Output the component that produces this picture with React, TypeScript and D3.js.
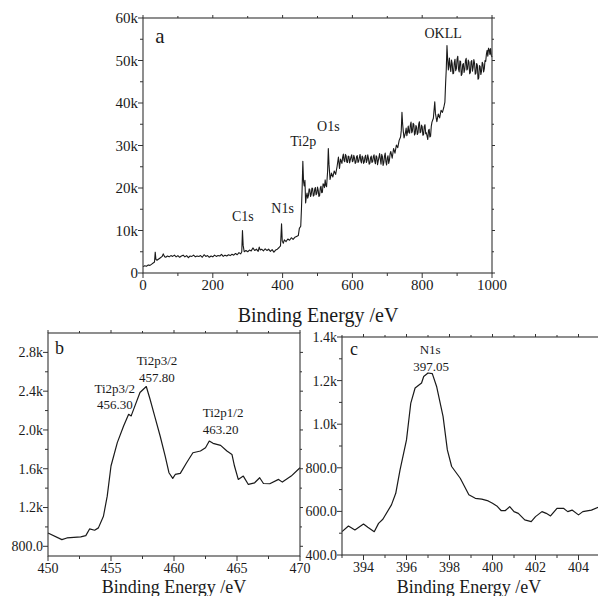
import React from "react";
import * as d3 from "d3";

// ---------- DATA ----------
// Panel a: XPS survey spectrum, [binding energy (eV), counts (thousands)]
const surveyPoints: [number, number][] = [
  [0, 1.5], [5, 1.7], [10, 1.6], [15, 1.9], [20, 1.8], [25, 2.1], [30, 2.4], [33, 2.6], [35, 4.9], [37, 3.2],
  [40, 3.0], [45, 3.3], [50, 3.6], [55, 3.9], [58, 4.5], [62, 3.8], [65, 3.7], [70, 4.0], [75, 3.8], [80, 4.1],
  [85, 3.9], [90, 4.2], [95, 3.8], [100, 4.1], [105, 3.7], [110, 4.0], [115, 4.2], [120, 3.8], [125, 4.1], [130, 3.6],
  [135, 4.0], [140, 3.9], [145, 4.2], [150, 3.8], [155, 4.0], [160, 3.9], [165, 4.1], [170, 3.7], [175, 4.3], [180, 3.9],
  [185, 4.1], [190, 3.7], [195, 4.0], [200, 3.8], [205, 4.2], [210, 3.9], [215, 4.1], [220, 4.0], [225, 4.4], [230, 3.9],
  [235, 4.2], [240, 4.0], [245, 4.3], [250, 4.1], [255, 4.4], [260, 4.2], [265, 4.6], [270, 4.3], [275, 4.8], [280, 4.5],
  [283, 5.0], [285, 10.0], [287, 6.5], [290, 5.0], [295, 5.3], [300, 5.0], [305, 5.4], [310, 5.2], [315, 5.9], [320, 5.3],
  [325, 5.6], [330, 5.1], [333, 6.1], [336, 5.4], [340, 5.6], [345, 5.2], [350, 5.7], [355, 5.3], [360, 5.6], [365, 5.1],
  [370, 5.5], [375, 4.9], [380, 5.4], [385, 5.6], [390, 6.0], [394, 6.4], [397, 11.6], [399, 7.5], [402, 7.0], [405, 7.8],
  [410, 7.4], [415, 8.0], [420, 7.7], [425, 8.3], [430, 7.9], [435, 8.4], [440, 8.6], [445, 8.8], [448, 10.5], [452, 11.0],
  [454, 15.0], [456, 20.0], [458, 26.3], [460, 21.5], [462, 20.5], [464, 21.8], [466, 16.5], [468, 18.0], [470, 18.8], [472, 17.6],
  [474, 18.2], [476, 19.8], [478, 19.6], [480, 18.0], [482, 18.5], [484, 20.0], [486, 19.9], [488, 18.1], [490, 18.3], [492, 19.7],
  [494, 20.1], [496, 18.4], [498, 18.7], [500, 20.2], [502, 19.5], [504, 18.0], [506, 18.2], [508, 20.0], [510, 20.4], [512, 18.9],
  [514, 19.0], [516, 21.0], [518, 20.8], [520, 20.1], [522, 21.9], [524, 20.6], [526, 20.3], [529, 24.0], [531, 29.3], [533, 25.5],
  [536, 22.0], [540, 23.5], [544, 22.6], [548, 24.0], [552, 23.2], [556, 25.0], [560, 27.3], [563, 24.6], [566, 26.8],
  [570, 25.8], [572, 27.2], [574, 28.0], [576, 26.5], [578, 26.2], [580, 27.9], [582, 27.6], [584, 26.1], [586, 26.0], [588, 27.5],
  [590, 27.4], [592, 25.9], [594, 26.6], [596, 27.3], [598, 27.8], [600, 26.2], [602, 26.4], [604, 27.7], [606, 27.1], [608, 25.8],
  [610, 26.0], [612, 27.4], [614, 27.6], [616, 26.0], [618, 26.3], [620, 27.2], [622, 27.9], [624, 26.4], [626, 25.9], [628, 27.5],
  [630, 27.2], [632, 25.8], [634, 26.1], [636, 27.3], [638, 27.7], [640, 26.0], [642, 26.5], [644, 27.8], [646, 27.0], [648, 25.6],
  [650, 25.8], [652, 27.1], [654, 27.5], [656, 26.0], [658, 26.2], [660, 27.4], [662, 27.8], [664, 26.3], [666, 25.7], [668, 27.6],
  [670, 27.3], [672, 25.5], [674, 26.4], [676, 27.2], [678, 28.1], [680, 26.8], [682, 25.6], [684, 27.9], [686, 27.4], [688, 25.3],
  [690, 26.0], [692, 27.5], [694, 28.2], [696, 26.2], [698, 25.4], [700, 27.0], [702, 27.6], [704, 25.8], [706, 26.5], [708, 28.0],
  [710, 28.6], [714, 27.0], [718, 29.3], [722, 28.2], [726, 30.1], [730, 29.5], [734, 31.2], [738, 32.0], [740, 33.5], [742, 37.8],
  [744, 35.0], [746, 33.2], [748, 31.8], [750, 32.4], [752, 33.0], [754, 34.1], [756, 32.3], [758, 33.2], [760, 34.6], [762, 33.1],
  [764, 32.9], [766, 34.8], [768, 35.5], [770, 33.0], [772, 33.4], [774, 35.2], [776, 35.0], [778, 32.5], [780, 32.8], [782, 34.7],
  [784, 34.3], [786, 32.6], [788, 33.0], [790, 35.0], [792, 35.6], [794, 33.0], [796, 33.2], [798, 34.8], [800, 34.4], [802, 32.4],
  [804, 32.6], [806, 34.5], [808, 34.9], [810, 32.8], [812, 33.0], [814, 32.2], [816, 31.4], [818, 33.5], [820, 33.8], [822, 32.0],
  [824, 32.2], [826, 34.5], [828, 35.5], [832, 36.4], [836, 40.3], [838, 37.5], [842, 35.6], [846, 37.4], [850, 36.5], [854, 38.3],
  [858, 37.8], [862, 39.0], [865, 40.2], [867, 44.5], [869, 48.0], [871, 53.5], [873, 50.2], [875, 47.8], [878, 50.6], [880, 48.5],
  [882, 47.4], [884, 50.1], [886, 49.2], [888, 46.9], [890, 47.0], [892, 49.5], [894, 50.3], [896, 47.6], [898, 48.1], [900, 50.4],
  [902, 51.0], [904, 48.0], [906, 47.3], [908, 49.9], [910, 49.8], [912, 46.5], [914, 46.8], [916, 49.0], [918, 49.3], [920, 47.2],
  [922, 47.9], [924, 50.0], [926, 50.5], [928, 47.8], [930, 48.0], [932, 50.1], [934, 49.6], [936, 46.9], [938, 47.2], [940, 49.7],
  [942, 50.0], [944, 47.5], [946, 48.4], [948, 50.2], [950, 49.4], [952, 46.8], [954, 47.0], [956, 49.3], [958, 48.9], [960, 45.6],
  [962, 45.9], [964, 48.8], [966, 48.6], [968, 46.7], [970, 47.5], [972, 49.6], [974, 49.2], [976, 47.3], [978, 48.1], [980, 50.0],
  [982, 49.8], [984, 51.5], [986, 52.4], [988, 51.0], [990, 52.9], [992, 52.6], [994, 51.4], [996, 52.8], [998, 51.2], [1000, 50.8],
];

// Panel b: Ti2p high resolution
const ti2pEnergy = [
  450.0, 451.1, 451.5, 452.6, 453.0, 453.3, 453.7, 454.0, 454.4, 454.7, 455.0, 455.5, 456.0, 456.4, 456.6, 456.9,
  457.3, 457.8, 458.1, 458.5, 458.9, 459.3, 459.6, 459.9, 460.1, 460.5, 461.0, 461.5, 462.1, 462.5, 462.8, 463.1,
  463.7, 464.2, 464.6, 464.8, 465.1, 465.5, 465.9, 466.4, 466.8, 467.1, 467.6, 468.3, 468.6, 469.3, 470.0,
];
const ti2pCounts = [
  938, 869, 886, 897, 910, 979, 966, 990, 1110, 1317, 1628, 1869, 2041, 2162, 2145, 2248,
  2386, 2448, 2317, 2128, 1938, 1731, 1559, 1500, 1541, 1552, 1662, 1765, 1783, 1817, 1886, 1862,
  1841, 1783, 1748, 1628, 1490, 1524, 1438, 1455, 1507, 1448, 1445, 1490, 1462, 1524, 1610,
];

// Panel c: N1s high resolution
const n1sEnergy = [
  393.0, 393.3, 393.6, 394.0, 394.2, 394.5, 394.7, 394.9, 395.3, 395.5, 395.7, 396.0, 396.2, 396.4, 396.7, 396.8,
  397.0, 397.2, 397.4, 397.7, 397.9, 398.1, 398.5, 398.7, 398.9, 399.2, 399.5, 399.8, 400.0, 400.2, 400.4, 400.6,
  400.8, 401.0, 401.2, 401.5, 401.8, 402.0, 402.3, 402.5, 402.7, 403.0, 403.3, 403.5, 403.7, 404.0, 404.2, 404.6, 405.0,
];
const n1sCounts = [
  507, 533, 515, 542, 527, 507, 545, 564, 630, 683, 790, 928, 1097, 1166, 1189, 1219,
  1235, 1232, 1173, 1036, 882, 806, 752, 714, 676, 660, 656, 648, 637, 625, 604, 604,
  622, 599, 591, 561, 553, 576, 599, 591, 579, 614, 614, 599, 606, 584, 599, 606, 622,
];

// Tick values and labels
const aXTicks = [0, 200, 400, 600, 800, 1000];
const aXMinor = [100, 300, 500, 700, 900];
const aYTicks = [0, 10000, 20000, 30000, 40000, 50000, 60000];
const aYLabels = ["0", "10k", "20k", "30k", "40k", "50k", "60k"];
const aYMinor = [5000, 15000, 25000, 35000, 45000, 55000];

const bXTicks = [450, 455, 460, 465, 470];
const bXMinor = [452.5, 457.5, 462.5, 467.5];
const bYTicks = [800, 1200, 1600, 2000, 2400, 2800];
const bYLabels = ["800.0", "1.2k", "1.6k", "2.0k", "2.4k", "2.8k"];
const bYMinor = [1000, 1400, 1800, 2200, 2600];

const cXTicks = [394, 396, 398, 400, 402, 404];
const cXMinor = [393, 395, 397, 399, 401, 403, 405];
const cYTicks = [400, 600, 800, 1000, 1200, 1400];
const cYLabels = ["400.0", "600.0", "800.0", "1.0k", "1.2k", "1.4k"];
const cYMinor = [500, 700, 900, 1100, 1300];

const FONT = "Liberation Serif, Times New Roman, Times, DejaVu Serif, serif";
const INK = "#1a1a1a";
const AXIS = "#333";

type Ann = { x: number; y: number; text: string; anchor?: string; size?: number };

type PanelProps = {
  left: number; right: number; top: number; bottom: number;
  xDomain: [number, number]; yDomain: [number, number];
  xs: number[]; ys: number[];
  xTicks: number[]; xMinor: number[]; xLabels?: string[];
  yTicks: number[]; yMinor: number[]; yLabels: string[];
  tickFont: number;
  anns: Ann[];
  lineWidth: number;
};

function Panel(p: PanelProps) {
  const x = d3.scaleLinear().domain(p.xDomain).range([p.left, p.right]);
  const y = d3.scaleLinear().domain(p.yDomain).range([p.bottom, p.top]);
  const pts: [number, number][] = p.xs.map((v, i) => [v, p.ys[i]]);
  const line = d3.line<[number, number]>().x((d) => x(d[0])).y((d) => y(d[1]));
  const major = 5, minor = 3, mirrorMajor = 3, mirrorMinor = 2;
  const ts = { fontFamily: FONT, fontSize: p.tickFont, fill: INK };
  return (
    <g>
      <path d={line(pts) || ""} fill="none" stroke={INK} strokeWidth={p.lineWidth} strokeLinejoin="round" />
      <rect x={p.left} y={p.top} width={p.right - p.left} height={p.bottom - p.top} fill="none" stroke={AXIS} strokeWidth={1.1} />
      {p.xTicks.map((t, i) => (
        <g key={"xt" + i}>
          <line x1={x(t)} x2={x(t)} y1={p.bottom} y2={p.bottom + major} stroke={AXIS} />
          <line x1={x(t)} x2={x(t)} y1={p.top} y2={p.top - mirrorMajor} stroke={AXIS} />
          <text x={x(t)} y={p.bottom + 17} textAnchor="middle" style={ts}>
            {p.xLabels ? p.xLabels[i] : String(t)}
          </text>
        </g>
      ))}
      {p.xMinor.map((t, i) => (
        <g key={"xm" + i}>
          <line x1={x(t)} x2={x(t)} y1={p.bottom} y2={p.bottom + minor} stroke={AXIS} />
          <line x1={x(t)} x2={x(t)} y1={p.top} y2={p.top - mirrorMinor} stroke={AXIS} />
        </g>
      ))}
      {p.yTicks.map((t, i) => (
        <g key={"yt" + i}>
          <line x1={p.left} x2={p.left - major} y1={y(t)} y2={y(t)} stroke={AXIS} />
          <line x1={p.right} x2={p.right + mirrorMajor} y1={y(t)} y2={y(t)} stroke={AXIS} />
          <text x={p.left - 5} y={y(t)} dy="0.35em" textAnchor="end" style={ts}>
            {p.yLabels[i]}
          </text>
        </g>
      ))}
      {p.yMinor.map((t, i) => (
        <g key={"ym" + i}>
          <line x1={p.left} x2={p.left - minor} y1={y(t)} y2={y(t)} stroke={AXIS} />
          <line x1={p.right} x2={p.right + mirrorMinor} y1={y(t)} y2={y(t)} stroke={AXIS} />
        </g>
      ))}
      {p.anns.map((a, i) => (
        <text key={"a" + i} x={x(a.x)} y={y(a.y)} textAnchor={a.anchor || "middle"}
          style={{ fontFamily: FONT, fontSize: a.size || 14, fill: INK }}>{a.text}</text>
      ))}
    </g>
  );
}

export default function App() {
  const titleStyle = (size: number) => ({ fontFamily: FONT, fontSize: size, fill: INK });
  return (
    <svg width={598} height={596} style={{ position: "absolute", left: 0, top: 0, background: "#fff" }}>
      <rect x={0} y={0} width={598} height={596} fill="#fff" />
      <Panel
        left={143} right={492} top={18} bottom={273}
        xDomain={[0, 1000]} yDomain={[0, 60000]}
        xs={surveyPoints.map((d) => d[0])} ys={surveyPoints.map((d) => d[1] * 1000)}
        xTicks={aXTicks} xMinor={aXMinor}
        yTicks={aYTicks} yMinor={aYMinor} yLabels={aYLabels}
        tickFont={15} lineWidth={1.1}
        anns={[
          { x: 35, y: 54100, text: "a", anchor: "start", size: 21 },
          { x: 286, y: 12300, text: "C1s" },
          { x: 400, y: 14100, text: "N1s" },
          { x: 459, y: 29900, text: "Ti2p" },
          { x: 531, y: 33400, text: "O1s" },
          { x: 860, y: 55400, text: "OKLL" },
        ]}
      />
      <text x={318} y={322} textAnchor="middle" style={titleStyle(20)}>Binding Energy /eV</text>

      <Panel
        left={48} right={300} top={333} bottom={556}
        xDomain={[450, 470]} yDomain={[700, 3000]}
        xs={ti2pEnergy} ys={ti2pCounts}
        xTicks={bXTicks} xMinor={bXMinor}
        yTicks={bYTicks} yMinor={bYMinor} yLabels={bYLabels}
        tickFont={14} lineWidth={1.2}
        anns={[
          { x: 450.55, y: 2786, text: "b", anchor: "start", size: 18 },
          { x: 458.65, y: 2672, text: "Ti2p3/2", size: 13 },
          { x: 458.65, y: 2499, text: "457.80", size: 13 },
          { x: 455.3, y: 2379, text: "Ti2p3/2", size: 13 },
          { x: 455.3, y: 2217, text: "456.30", size: 13 },
          { x: 463.9, y: 2137, text: "Ti2p1/2", size: 13 },
          { x: 463.7, y: 1958, text: "463.20", size: 13 },
        ]}
      />
      <text x={174} y={593} textAnchor="middle" style={titleStyle(18)}>Binding Energy /eV</text>

      <Panel
        left={342} right={600} top={337} bottom={555}
        xDomain={[393, 405]} yDomain={[400, 1400]}
        xs={n1sEnergy} ys={n1sCounts}
        xTicks={cXTicks} xMinor={cXMinor}
        yTicks={cYTicks} yMinor={cYMinor} yLabels={cYLabels}
        tickFont={14} lineWidth={1.2}
        anns={[
          { x: 393.37, y: 1317, text: "c", anchor: "start", size: 18 },
          { x: 397.1, y: 1322, text: "N1s", size: 13 },
          { x: 397.14, y: 1245, text: "397.05", size: 13 },
        ]}
      />
      <text x={469} y={593} textAnchor="middle" style={titleStyle(18)}>Binding Energy /eV</text>
    </svg>
  );
}
